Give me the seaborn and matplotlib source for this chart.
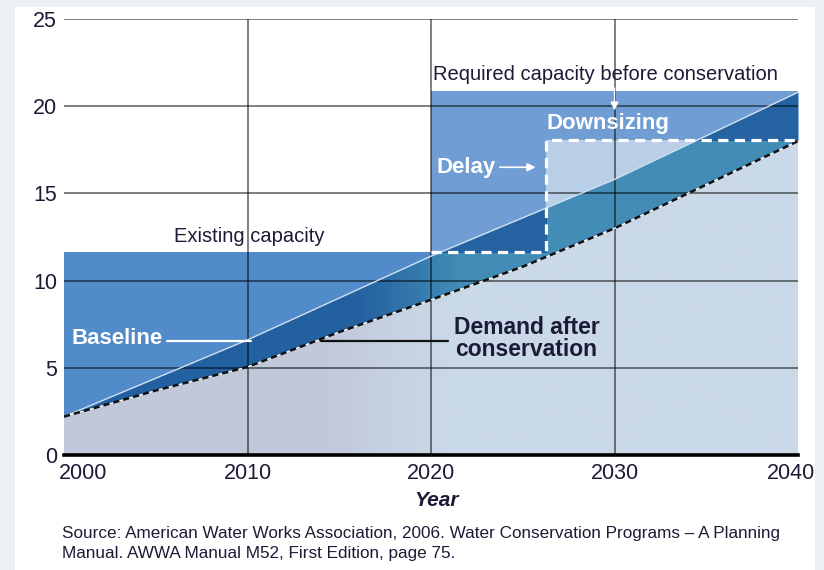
import numpy as np
import matplotlib
matplotlib.use('Agg')
import matplotlib.pyplot as plt
from matplotlib.patches import Rectangle
from matplotlib.colors import to_rgba
from matplotlib.transforms import ScaledTranslation
import seaborn as sns

# Values
years = [2000, 2005, 2010, 2015, 2020, 2025, 2030, 2035, 2040]
baseline = [2.2, 4.4, 6.6, 9.0, 11.4, 13.6, 15.8, 18.3, 20.8]
demand = [2.2, 3.7, 5.05, 7.05, 8.9, 10.8, 13.0, 15.5, 18.0]
existing_capacity = 11.66
required_capacity = 20.85
downsized_capacity = 18.07
delay_until = 2026.25
x_ticks = [2000, 2010, 2020, 2030, 2040]
y_ticks = [0, 5, 10, 15, 20, 25]
source = ("Source: American Water Works Association, 2006. Water Conservation Programs \u2013 A Planning\n"
          "Manual. AWWA Manual M52, First Edition, page 75.")

sns.set_theme(style='white')
plt.rcParams['font.family'] = ['Liberation Sans', 'DejaVu Sans']
TXT = '#1b1b35'


def gradient_fill(ax, lo, hi, c_from, c_to, x_from, x_to, z):
    # horizontal colour ramp clipped to the area between lo and hi
    poly = ax.fill_between(years, lo, hi, facecolor='none', edgecolor='none')
    xs = np.linspace(2000, 2040, 800)
    t = np.clip((xs - x_from) / (x_to - x_from), 0, 1)[:, None]
    a, b = np.array(to_rgba(c_from)), np.array(to_rgba(c_to))
    img = (a + t * (b - a))[None, :, :]
    im = ax.imshow(img, extent=[2000, 2040, 0, 25], origin='lower',
                   aspect='auto', zorder=z, interpolation='bilinear')
    im.set_clip_path(poly.get_paths()[0], transform=ax.transData)


fig = plt.figure(figsize=(8.24, 5.70), dpi=100, facecolor='#edf0f2')
fig.patches.append(Rectangle((15 / 824, 0), 800 / 824, 563 / 570, transform=fig.transFigure,
                             facecolor='white', edgecolor='none', zorder=-1))
ax = fig.add_axes([64 / 824, 115 / 570, 734 / 824, 436 / 570])
ax.set_facecolor('white')

# capacity blocks
ax.add_patch(Rectangle((2000, 0), 20, existing_capacity, facecolor='#528bc9', lw=0, zorder=1))
ax.add_patch(Rectangle((2020, 0), 20, required_capacity, facecolor='#709ed4', lw=0, zorder=1))
ax.add_patch(Rectangle((delay_until, 0), 2040 - delay_until, downsized_capacity,
                       facecolor='#b9cee7', lw=0, zorder=1.1))

# band between demand and baseline
gradient_fill(ax, demand, baseline, '#2360a0', '#428cb6', 2016, 2021.5, 2)
for x0, x1, y0 in [(2000, delay_until, existing_capacity), (delay_until, 2040, downsized_capacity)]:
    p = ax.fill_between(years, demand, baseline, color='#2562a2', lw=0, zorder=2.2)
    p.set_clip_path(Rectangle((x0, y0), x1 - x0, 25 - y0, transform=ax.transData))

# area below demand
gradient_fill(ax, [0] * len(years), demand, '#c1c8da', '#cad9e8', 2014, 2021, 2.4)

# grid
ax.hlines(y_ticks[1:], 2000, 2040, color='black', alpha=0.5, lw=1.4, zorder=3)
ax.vlines(x_ticks[1:-1], 0, 25, color='black', alpha=0.5, lw=1.4, zorder=3)

# lines
sns.lineplot(x=years, y=baseline, ax=ax, color='#cfe0f2', lw=1.0, zorder=4)
sns.lineplot(x=years, y=demand, ax=ax, color='white', lw=0.8, zorder=4)
sns.lineplot(x=years, y=demand, ax=ax, color='#111111', lw=1.8, ls=(0, (2.5, 1.6)), zorder=4.1)
ax.plot([2020, delay_until, delay_until, 2040],
        [existing_capacity, existing_capacity, downsized_capacity, downsized_capacity],
        color='white', lw=2.3, ls=(0, (3.2, 2.0)), zorder=5)

# annotations
ax.text(2010.1, 12.55, 'Existing capacity', ha='center', va='center', fontsize=14.5, color=TXT, zorder=6)
ax.text(2029.5, 21.8, 'Required capacity before conservation', ha='center', va='center',
        fontsize=14.5, color=TXT, zorder=6)
ax.annotate('', xy=(2030, 19.6), xytext=(2030, 21.2), zorder=6,
            arrowprops=dict(arrowstyle='-|>', color='white', lw=1.0, mutation_scale=12))
ax.text(2026.3, 19.0, 'Downsizing', ha='left', va='center', fontsize=16, fontweight='bold',
        color='white', zorder=6)
ax.text(2020.3, 16.5, 'Delay', ha='left', va='center', fontsize=16, fontweight='bold',
        color='white', zorder=6)
ax.annotate('', xy=(2025.85, 16.5), xytext=(2023.6, 16.5), zorder=6,
            arrowprops=dict(arrowstyle='-|>', color='white', lw=1.2, mutation_scale=12))
ax.text(2005.4, 6.7, 'Baseline', ha='right', va='center', fontsize=16, fontweight='bold',
        color='white', zorder=6)
ax.plot([2005.6, 2010.2], [6.56, 6.56], color='white', lw=1.6, zorder=6)
ax.text(2025.2, 6.7, 'Demand after\nconservation', ha='center', va='center', fontsize=16.5,
        fontweight='bold', color=TXT, linespacing=0.95, zorder=6)
ax.plot([2014.0, 2020.9], [6.55, 6.55], color='#111111', lw=1.6, zorder=6)

# axes styling
ax.set_xlim(2000, 2040)
ax.set_ylim(0, 25)
ax.set_xticks(x_ticks)
ax.set_yticks(y_ticks)
ax.set_xticklabels([str(x) for x in x_ticks])
ax.tick_params(axis='both', length=0, labelsize=15.5, labelcolor=TXT)
ax.tick_params(axis='x', pad=6)
ax.tick_params(axis='y', pad=5)
xlabels = ax.get_xticklabels()
xlabels[0].set_ha('left')
xlabels[0].set_transform(xlabels[0].get_transform() + ScaledTranslation(-5 / 100, 0, fig.dpi_scale_trans))
xlabels[-1].set_transform(xlabels[-1].get_transform() + ScaledTranslation(-7 / 100, 0, fig.dpi_scale_trans))
ax.grid(False)
for s in ['left', 'right', 'top']:
    ax.spines[s].set_visible(False)
ax.spines['bottom'].set_color('black')
ax.spines['bottom'].set_linewidth(2.6)
ax.spines['bottom'].set_zorder(7)
ax.set_xlabel('')
ax.set_ylabel('')

fig.text(436 / 824, 1 - 500 / 570, 'Year', ha='center', va='center', fontsize=15,
         fontweight='bold', fontstyle='italic', color=TXT)
fig.text(62 / 824, 1 - 526 / 570, source, ha='left', va='top', fontsize=12.3, color=TXT,
         linespacing=1.45)

fig.savefig('out.png', dpi=100, facecolor=fig.get_facecolor())
